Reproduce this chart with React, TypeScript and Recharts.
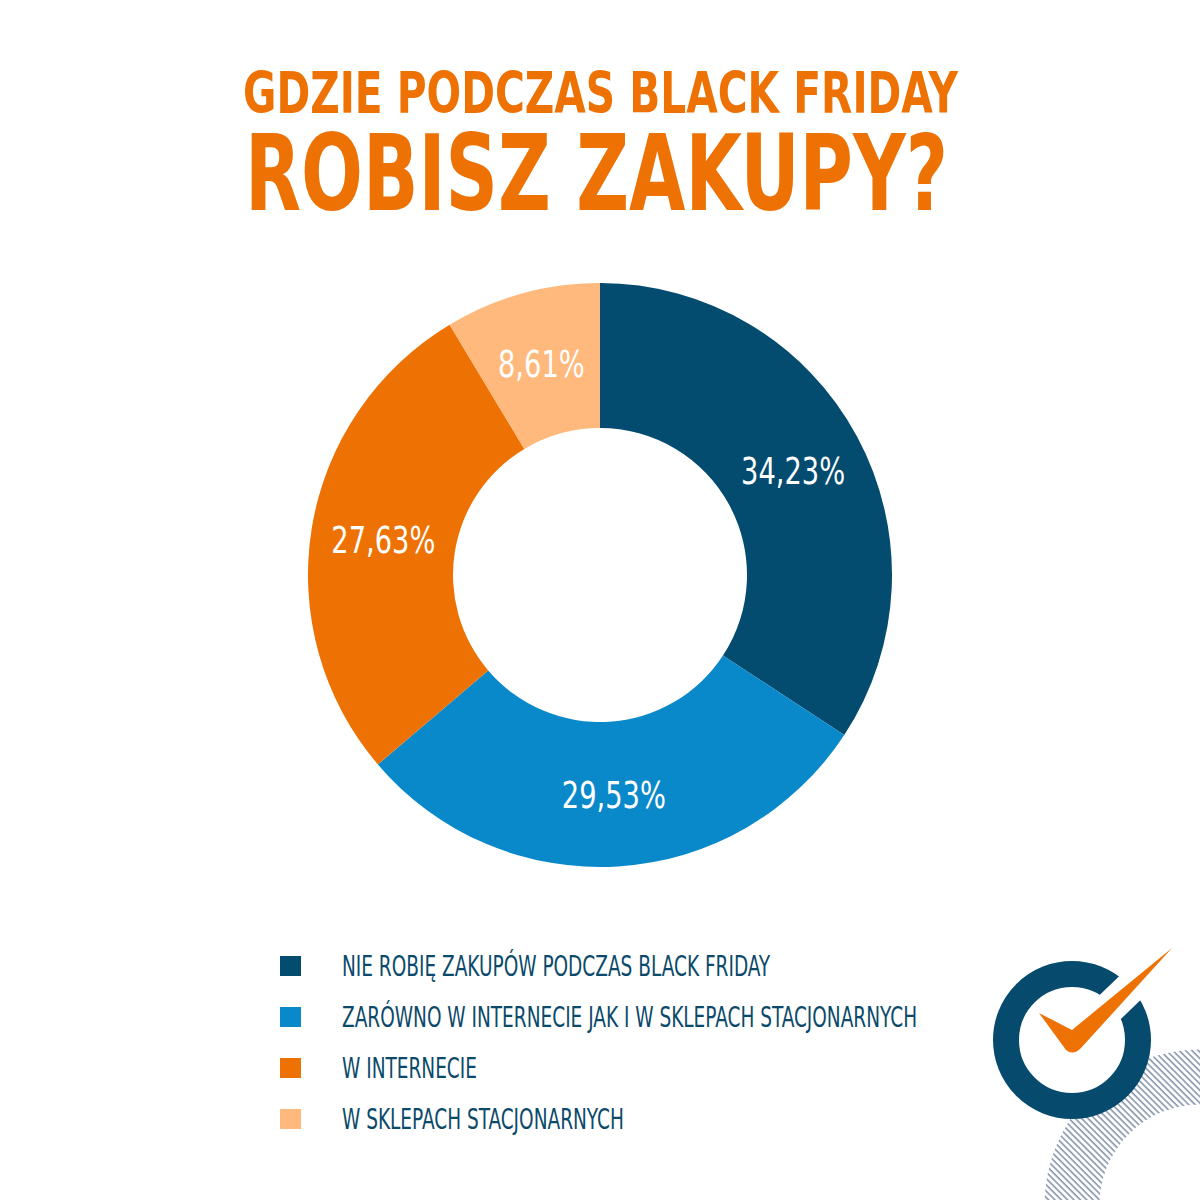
import { PieChart, Pie, Cell, Legend } from "recharts"

const categories = [
  "NIE ROBIĘ ZAKUPÓW PODCZAS BLACK FRIDAY",
  "ZARÓWNO W INTERNECIE JAK I W SKLEPACH STACJONARNYCH",
  "W INTERNECIE",
  "W SKLEPACH STACJONARNYCH",
]
const shares = [34.23, 29.53, 27.63, 8.61]
const colors = ["#034b6f", "#0a89ca", "#ee7203", "#ffb97d"]

const titleLines = ["GDZIE PODCZAS BLACK FRIDAY", "ROBISZ ZAKUPY?"]

const data = categories.map((name, i) => ({ name, value: shares[i] }))

// no narrow font installed, so condensed DejaVu gets squeezed a bit more
const NARROW = "'Liberation Sans Narrow', 'DejaVu Sans Condensed', 'Roboto', sans-serif"
const RAD = Math.PI / 180

const renderLabel = (props: any) => {
  const { cx, cy, midAngle, innerRadius, outerRadius, value } = props
  const r = (innerRadius + outerRadius) / 2
  const x = cx + r * Math.cos(-midAngle * RAD)
  const y = cy + r * Math.sin(-midAngle * RAD)
  return (
    <text
      transform={`translate(${x}, ${y + 13.5}) scale(0.82, 1)`}
      fill="#fff"
      fontSize={37}
      fontFamily={NARROW}
      textAnchor="middle"
    >
      {value.toFixed(2).replace(".", ",") + "%"}
    </text>
  )
}

const renderLegend = (props: any) => {
  const items = [...(props.payload || [])].sort(
    (a: any, b: any) => categories.indexOf(a.value) - categories.indexOf(b.value)
  )
  return (
    <svg width={700} height={220}>
      {items.map((item: any, i: number) => (
        <g key={item.value}>
          <rect x={10} y={16 + i * 51} width={21} height={20} fill={item.color} />
          <text
            transform={`translate(72, ${36 + i * 51}) scale(0.735, 1)`}
            fontSize={28}
            fontFamily={NARROW}
            fill="#0b4a6a"
          >
            {item.value}
          </text>
        </g>
      ))}
    </svg>
  )
}

export default function App() {
  return (
    <div style={{ position: "absolute", left: 0, top: 0, width: 1200, height: 1200, background: "#fff" }}>
      <PieChart width={1200} height={1200} margin={{ top: 0, right: 0, bottom: 0, left: 0 }}>
        <Pie
          data={data}
          dataKey="value"
          nameKey="name"
          cx={600}
          cy={575}
          innerRadius={147}
          outerRadius={292}
          startAngle={90}
          endAngle={-270}
          stroke="none"
          label={renderLabel}
          labelLine={false}
          isAnimationActive={false}
        >
          {data.map((d, i) => (
            <Cell key={d.name} fill={colors[i]} />
          ))}
        </Pie>
        <Legend
          content={renderLegend}
          wrapperStyle={{ left: 270, top: 940, width: 700, height: 220 }}
        />
      </PieChart>

      <svg
        width={1200}
        height={1200}
        style={{ position: "absolute", left: 0, top: 0, pointerEvents: "none" }}
      >
        <defs>
          <pattern id="hatch" patternUnits="userSpaceOnUse" width={4.5} height={4.5} patternTransform="rotate(-45)">
            <line x1={1} y1={0} x2={1} y2={4.5} stroke="#7f90a8" strokeWidth={1.5} />
          </pattern>
        </defs>
        <text
          x={243}
          y={113}
          fontSize={57}
          fontWeight="bold"
          fontFamily={NARROW}
          fill="#ee7203"
          textLength={715}
          lengthAdjust="spacingAndGlyphs"
        >
          {titleLines[0]}
        </text>
        <text
          x={245}
          y={210}
          fontSize={106}
          fontWeight="bold"
          fontFamily={NARROW}
          fill="#ee7203"
          textLength={703}
          lengthAdjust="spacingAndGlyphs"
        >
          {titleLines[1]}
        </text>

        {/* logo */}
        <circle cx={1200} cy={1205} r={128} fill="none" stroke="url(#hatch)" strokeWidth={55} />
        <circle cx={1072} cy={1040} r={66} fill="none" stroke="#064a6e" strokeWidth={26} />
        <line x1={1076} y1={1040} x2={1185} y2={935} stroke="#fff" strokeWidth={32} />
        <path
          d="M1039 1013 L1072 1030 L1172 948 L1081 1048 Q1073 1056 1066 1050 Z"
          fill="#ee7203"
        />
      </svg>
    </div>
  )
}
